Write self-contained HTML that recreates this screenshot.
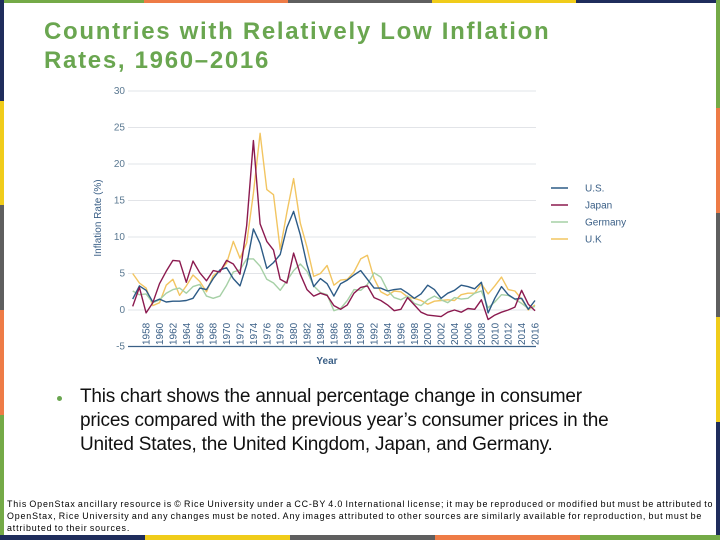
<!DOCTYPE html>
<html><head><meta charset="utf-8"><style>
body{margin:0;width:720px;height:540px;overflow:hidden;background:#fff;position:relative;font-family:"Liberation Sans",sans-serif}
.b{position:absolute}
#title{position:absolute;left:44px;top:17px;color:#6aa650;font-weight:bold;font-size:24px;line-height:29px;letter-spacing:1.7px;white-space:nowrap}
#bullet{position:absolute;left:80px;top:385px;font-size:19px;line-height:24px;color:#111;width:548px;letter-spacing:-0.2px}
#dot{position:absolute;left:57px;top:396px;width:5px;height:5px;border-radius:50%;background:#6aa650}
#foot{position:absolute;left:7px;top:498px;font-size:8.9px;line-height:12px;color:#000;white-space:nowrap;letter-spacing:0.84px;word-spacing:-1px}
</style></head><body>
<div>
<div class="b" style="left:0;top:0;width:144px;height:3px;background:#74aa47"></div>
<div class="b" style="left:144px;top:0;width:144px;height:3px;background:#ee7b46"></div>
<div class="b" style="left:288px;top:0;width:144px;height:3px;background:#5f5f5f"></div>
<div class="b" style="left:432px;top:0;width:144px;height:3px;background:#f0cc1a"></div>
<div class="b" style="left:576px;top:0;width:144px;height:3px;background:#1f2d5c"></div>
</div>
<div>
<div class="b" style="left:0;top:0;width:4px;height:101px;background:#1f2d5c"></div>
<div class="b" style="left:0;top:101px;width:4px;height:104px;background:#f0cc1a"></div>
<div class="b" style="left:0;top:205px;width:4px;height:105px;background:#5f5f5f"></div>
<div class="b" style="left:0;top:310px;width:4px;height:105px;background:#ee7b46"></div>
<div class="b" style="left:0;top:415px;width:4px;height:125px;background:#74aa47"></div>
</div>
<div>
<div class="b" style="left:716px;top:0;width:4px;height:108px;background:#74aa47"></div>
<div class="b" style="left:716px;top:108px;width:4px;height:105px;background:#ee7b46"></div>
<div class="b" style="left:716px;top:213px;width:4px;height:104px;background:#5f5f5f"></div>
<div class="b" style="left:716px;top:317px;width:4px;height:105px;background:#f0cc1a"></div>
<div class="b" style="left:716px;top:422px;width:4px;height:118px;background:#1f2d5c"></div>
</div>
<div>
<div class="b" style="left:0;top:535px;width:145px;height:5px;background:#1f2d5c"></div>
<div class="b" style="left:145px;top:535px;width:145px;height:5px;background:#f0cc1a"></div>
<div class="b" style="left:290px;top:535px;width:145px;height:5px;background:#5f5f5f"></div>
<div class="b" style="left:435px;top:535px;width:145px;height:5px;background:#ee7b46"></div>
<div class="b" style="left:580px;top:535px;width:140px;height:5px;background:#74aa47"></div>
</div>
<div id="title">Countries with Relatively Low Inflation<br>Rates, 1960–2016</div>
<svg id="chart" width="720" height="380" style="position:absolute;left:0;top:0"></svg>
<div id="dot"></div>
<div id="bullet">This chart shows the annual percentage change in consumer prices compared with the previous year’s consumer prices in the United States, the United Kingdom, Japan, and Germany.</div>
<div id="foot">This OpenStax ancillary resource is © Rice University under a CC-BY 4.0 International license; it may be reproduced or modified but must be attributed to<br>OpenStax, Rice University and any changes must be noted.  Any images attributed to other sources are similarly available for reproduction, but must be<br>attributed to their sources.</div>
<script>
const firstYear = 1956;
const usValues = [1.5,3.3,2.7,1.1,1.5,1.1,1.2,1.2,1.3,1.6,3.0,2.8,4.3,5.5,5.8,4.3,3.3,6.2,11.1,9.1,5.7,6.5,7.6,11.3,13.5,10.3,6.2,3.2,4.3,3.6,1.9,3.6,4.1,4.8,5.4,4.2,3.0,3.0,2.6,2.8,2.9,2.3,1.6,2.2,3.4,2.8,1.6,2.3,2.7,3.4,3.2,2.9,3.8,-0.4,1.6,3.2,2.1,1.5,1.6,0.1,1.3];
const japanValues = [0.5,3.1,-0.4,1.0,3.6,5.3,6.8,6.7,3.8,6.7,5.1,4.0,5.4,5.2,6.8,6.3,4.9,11.6,23.2,11.8,9.4,8.2,4.2,3.7,7.8,4.9,2.8,1.9,2.3,2.0,0.6,0.1,0.7,2.3,3.1,3.3,1.7,1.3,0.7,-0.1,0.1,1.7,0.7,-0.3,-0.7,-0.8,-0.9,-0.3,0.0,-0.3,0.2,0.1,1.4,-1.3,-0.7,-0.3,0.0,0.4,2.7,0.8,-0.1];
const germanyValues = [2.6,2.1,2.2,1.0,1.4,2.3,2.8,3.0,2.3,3.2,3.5,1.9,1.6,1.9,3.4,5.2,5.5,7.0,7.0,6.0,4.2,3.7,2.7,4.0,5.4,6.3,5.3,3.3,2.4,2.1,-0.1,0.2,1.3,2.8,2.7,3.5,5.1,4.5,2.7,1.7,1.4,1.9,0.9,0.6,1.4,1.9,1.4,1.0,1.7,1.5,1.6,2.3,2.6,0.3,1.1,2.1,2.0,1.5,0.9,0.2,0.5];
const ukValues = [5.0,3.7,3.0,0.6,1.0,3.4,4.2,2.0,3.3,4.8,3.9,2.5,4.7,5.4,6.4,9.4,7.1,9.2,16.0,24.2,16.5,15.8,8.3,13.4,18.0,11.9,8.6,4.6,5.0,6.1,3.4,4.1,4.2,5.2,7.0,7.5,4.3,2.5,2.0,2.6,2.5,1.8,1.6,1.3,0.8,1.2,1.3,1.4,1.3,2.1,2.3,2.3,3.6,2.2,3.3,4.5,2.8,2.6,1.5,0.0,0.7];
const yTicks = [-5,0,5,10,15,20,25,30];
const xTickYears = [1958,1960,1962,1964,1966,1968,1970,1972,1974,1976,1978,1980,1982,1984,1986,1988,1990,1992,1994,1996,1998,2000,2002,2004,2006,2008,2010,2012,2014,2016];
const seriesNames = ["U.S.","Japan","Germany","U.K"];
const seriesColors = ["#2d5b86","#8b1a4f","#a6d0a6","#f2c561"];
const seriesData = [usValues, japanValues, germanyValues, ukValues];

const NS = "http://www.w3.org/2000/svg";
const svg = document.getElementById('chart');
const xS = y => 132.7 + (y - 1956) * 6.705;
const yS = v => 310 - v * 7.3;
function mk(tag, attrs, parent){const e=document.createElementNS(NS,tag);for(const k in attrs)e.setAttribute(k,attrs[k]);(parent||svg).appendChild(e);return e;}

yTicks.forEach(t=>{
  if(t>-5){const g=mk('line',{x1:128,x2:536,y1:yS(t),y2:yS(t),stroke:'#e2e4e8','stroke-width':1});
  
  }
  const tx=mk('text',{x:125,y:yS(t)+3,'text-anchor':'end','font-size':10,fill:'#5a7891','font-family':'Liberation Sans, sans-serif'});
  tx.textContent=t;
  
  
});
const ax=mk('line',{x1:128,x2:536,y1:yS(-5),y2:yS(-5),stroke:'#3a5f86','stroke-width':1.2});


xTickYears.forEach(yr=>{
  const tx=mk('text',{transform:`translate(${xS(yr)+3.5},345) rotate(-90)`,'font-size':10,fill:'#3a5f86','font-family':'Liberation Sans, sans-serif'});
  tx.textContent=yr;
  
  
});
const yt=mk('text',{transform:'translate(101,218) rotate(-90)','text-anchor':'middle','font-size':10,fill:'#3a5f86','font-family':'Liberation Sans, sans-serif'});
yt.textContent='Inflation Rate (%)';


const xt=mk('text',{x:327,y:364,'text-anchor':'middle','font-size':10,'font-weight':'bold',fill:'#3a5f86','font-family':'Liberation Sans, sans-serif'});
xt.textContent='Year';



[3,2,0,1].forEach(si=>{
  const vals=seriesData[si];
  const pts=vals.map((v,i)=>xS(firstYear+i).toFixed(1)+','+yS(v).toFixed(1)).join(' ');
  const pl=mk('polyline',{points:pts,fill:'none',stroke:seriesColors[si],'stroke-width':1.4,'stroke-linejoin':'round'});
  
  
});
seriesNames.forEach((n,i)=>{
  const y=188+i*17;
  const l=mk('line',{x1:551,x2:568,y1:y,y2:y,stroke:seriesColors[i],'stroke-width':1.4});
  
  
  const t=mk('text',{x:585,y:y+3.5,'font-size':10,fill:'#3a5f86','font-family':'Liberation Sans, sans-serif'});
  t.textContent=n;
  
  
});
</script>
</body></html>
